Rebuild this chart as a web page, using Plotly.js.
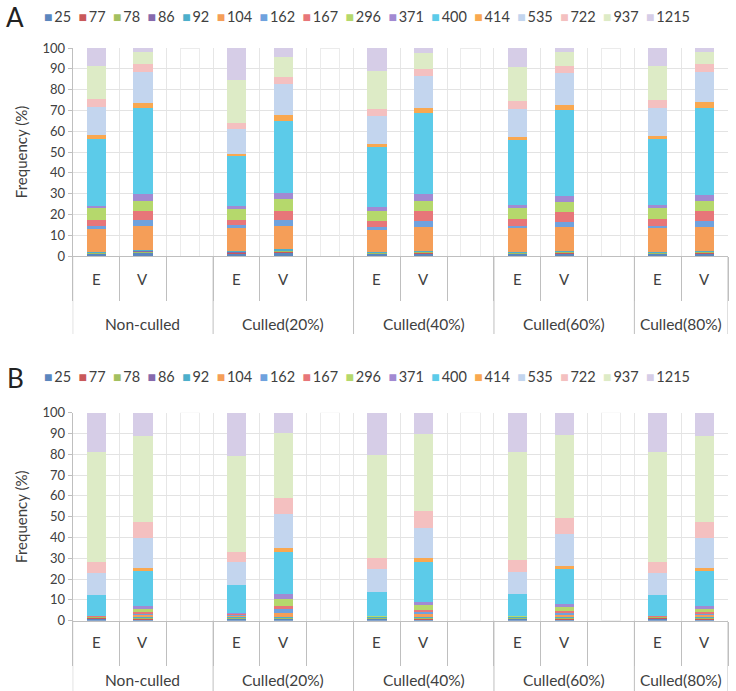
<!DOCTYPE html>
<html><head><meta charset="utf-8">
<script src="https://cdn.plot.ly/plotly-3.0.1.min.js"></script>
<style>html,body{margin:0;padding:0;background:#fff}#chart{width:736px;height:691px}</style>
</head><body><div id="chart"></div>
<script>
// ---------- DATA ----------
const groups = ['Non-culled', 'Culled(20%)', 'Culled(40%)', 'Culled(60%)', 'Culled(80%)'];
const subLabels = ['E', 'V'];
const seriesNames = ['25','77','78','86','92','104','162','167','296','371','400','414','535','722','937','1215'];
const seriesColors = ['#5B86BE','#C9585A','#A3C060','#8669AC','#4DAFCB','#F59E58','#6FA2DE','#E77679',
                      '#B5D86C','#A28AD2','#5CCBE9','#F9A850','#C3D5EE','#F4C0C0','#DDEBC6','#D6CDE7'];
// order of values: NC-E, NC-V, 20-E, 20-V, 40-E, 40-V, 60-E, 60-V, 80-E, 80-V
// Panel A
const A_25   = [1.0, 1.4, 1.2, 1.5, 1.0, 1.2, 1.0, 1.2, 1.0, 1.2];
const A_77   = [0.1, 0.2, 0.1, 0.3, 0.1, 0.2, 0.1, 0.2, 0.1, 0.2];
const A_78   = [0.2, 0.4, 0.3, 0.4, 0.2, 0.3, 0.2, 0.3, 0.2, 0.3];
const A_86   = [0.1, 0.2, 0.1, 0.2, 0.1, 0.1, 0.1, 0.1, 0.1, 0.1];
const A_92   = [0.4, 0.9, 0.5, 1.0, 0.4, 0.8, 0.4, 0.8, 0.4, 0.8];
const A_104  = [11.3, 11.5, 11.1, 11.2, 10.7, 11.5, 11.5, 11.2, 11.5, 11.5];
const A_162  = [1.3, 2.7, 1.4, 2.7, 1.4, 2.6, 1.1, 2.7, 1.0, 2.6];
const A_167  = [2.9, 4.5, 2.4, 4.3, 2.9, 4.9, 3.4, 4.8, 3.3, 4.9];
const A_296  = [5.6, 4.8, 5.3, 5.6, 5.0, 5.0, 5.1, 4.8, 5.3, 4.8];
const A_371  = [1.3, 3.0, 1.5, 3.1, 1.6, 3.0, 1.6, 2.9, 1.5, 2.8];
const A_400  = [32.0, 41.7, 24.2, 34.6, 28.8, 39.3, 31.3, 41.2, 31.9, 41.8];
const A_414  = [2.1, 2.4, 0.8, 2.9, 1.5, 2.4, 1.6, 2.6, 1.4, 2.9];
const A_535  = [13.5, 14.9, 12.0, 14.9, 13.6, 15.2, 13.3, 15.3, 13.6, 14.7];
const A_722  = [3.5, 3.7, 3.2, 3.5, 3.2, 3.2, 3.8, 3.4, 3.7, 3.7];
const A_937  = [16.0, 5.6, 20.5, 9.3, 18.4, 7.7, 16.5, 6.4, 16.3, 5.6];
const A_1215 = [8.7, 2.1, 15.4, 4.5, 11.1, 2.6, 9.0, 2.1, 8.7, 2.1];
// Panel B
const B_25   = [0.9, 0.5, 0.6, 0.6, 0.8, 0.5, 0.8, 0.5, 0.9, 0.5];
const B_77   = [0.2, 0.3, 0.4, 0.3, 0.2, 0.3, 0.2, 0.3, 0.2, 0.3];
const B_78   = [0.5, 0.3, 0.3, 0.3, 0.4, 0.3, 0.4, 0.3, 0.5, 0.3];
const B_86   = [0.1, 0.2, 0.2, 0.3, 0.1, 0.2, 0.1, 0.2, 0.1, 0.2];
const B_92   = [0.1, 0.3, 0.2, 0.3, 0.1, 0.3, 0.1, 0.3, 0.1, 0.3];
const B_104  = [0.1, 1.0, 0.7, 2.1, 0.2, 1.4, 0.1, 1.2, 0.1, 1.0];
const B_162  = [0.1, 0.8, 0.3, 1.7, 0.1, 1.1, 0.1, 1.0, 0.1, 0.8];
const B_167  = [0.1, 0.8, 0.3, 1.6, 0.1, 1.2, 0.1, 1.0, 0.1, 0.8];
const B_296  = [0.2, 1.6, 0.4, 3.2, 0.2, 2.3, 0.2, 1.9, 0.2, 1.6];
const B_371  = [0.1, 1.1, 0.2, 2.2, 0.1, 1.5, 0.1, 1.2, 0.1, 1.1];
const B_400  = [9.9, 17.1, 13.5, 20.6, 11.5, 19.1, 10.5, 16.9, 9.9, 17.1];
const B_414  = [0.2, 1.2, 0.3, 1.7, 0.2, 1.8, 0.2, 1.5, 0.2, 1.2];
const B_535  = [10.6, 14.4, 10.8, 16.4, 11.0, 14.7, 10.5, 15.2, 10.6, 14.4];
const B_722  = [5.1, 7.7, 5.0, 7.8, 5.3, 8.2, 5.6, 8.0, 5.1, 7.7];
const B_937  = [53.0, 41.5, 46.0, 31.0, 49.3, 36.8, 52.1, 39.9, 53.0, 41.5];
const B_1215 = [18.8, 11.2, 20.8, 9.9, 20.4, 10.3, 18.9, 10.6, 18.8, 11.2];
// empty spacer columns between groups (drawn as faint outlines)
const spacerValues = [100, 100, 100, 100];

const seriesA = [A_25,A_77,A_78,A_86,A_92,A_104,A_162,A_167,A_296,A_371,A_400,A_414,A_535,A_722,A_937,A_1215];
const seriesB = [B_25,B_77,B_78,B_86,B_92,B_104,B_162,B_167,B_296,B_371,B_400,B_414,B_535,B_722,B_937,B_1215];

// ---------- LAYOUT HELPERS ----------
const W = 736, H = 691;
const FONT = 'Lato, "Open Sans", sans-serif';
const TXT = '#404040';
const slotIds = [], barIds = [], gapIds = [], subOfSlot = [], groupSpans = [];
groups.forEach((g, gi) => {
  const start = slotIds.length;
  subLabels.forEach(s => { const id = g + ' ' + s; slotIds.push(id); barIds.push(id); subOfSlot.push(s); });
  if (gi < groups.length - 1) { const id = g + ' _'; slotIds.push(id); gapIds.push(id); subOfSlot.push(''); }
  groupSpans.push({name: g, start: start, end: slotIds.length - 1});
});

const plotLeft = 72.7, plotRight = 728;
const panels = [
  {label: 'A', data: seriesA, top: 48, bottom: 256, xa: 'x', ya: 'y', legendY: 17, labelY: 17, subY: 279, groupY: 324},
  {label: 'B', data: seriesB, top: 412.7, bottom: 620.7, xa: 'x2', ya: 'y2', legendY: 376, labelY: 378, subY: 642, groupY: 680}
];
const py = Y => (H - Y) / H;

const traces = [], annotations = [], shapes = [];
const layout = {
  width: W, height: H, margin: {l: 0, r: 0, t: 0, b: 0},
  paper_bgcolor: '#fff', plot_bgcolor: '#fff',
  barmode: 'stack', bargap: 0.59, showlegend: false,
  font: {family: FONT, color: TXT}
};

panels.forEach((p, pi) => {
  const sfx = pi === 0 ? '' : '2';
  p.data.forEach((vals, i) => {
    traces.push({
      type: 'bar', x: barIds, y: vals, name: seriesNames[i],
      marker: {color: seriesColors[i], line: {width: 0}},
      xaxis: p.xa, yaxis: p.ya,
      hovertemplate: seriesNames[i] + ': %{y}%<extra></extra>'
    });
  });
  traces.push({
    type: 'bar', x: gapIds, y: spacerValues, name: 'spacer', showlegend: false, hoverinfo: 'skip',
    marker: {color: 'rgba(255,255,255,0)', line: {color: '#EBEBEB', width: 1}},
    xaxis: p.xa, yaxis: p.ya
  });
  layout['xaxis' + sfx] = {
    domain: [plotLeft / W, plotRight / W], anchor: p.ya,
    type: 'category', categoryorder: 'array', categoryarray: slotIds,
    range: [-0.5, slotIds.length - 0.5],
    showticklabels: false, ticks: 'outside', tickson: 'boundaries', ticklen: 44,
    tickcolor: '#BFBFBF', tickwidth: 1,
    showgrid: true, gridcolor: '#E6E6E6', gridwidth: 1,
    showline: true, linecolor: '#BFBFBF', linewidth: 1, zeroline: false, fixedrange: true
  };
  layout['yaxis' + sfx] = {
    domain: [py(p.bottom), py(p.top)], anchor: p.xa,
    range: [0, 100], tick0: 0, dtick: 10,
    showgrid: true, gridcolor: '#E3E3E3', gridwidth: 1,
    showline: true, linecolor: '#BFBFBF', linewidth: 1,
    ticks: 'outside', ticklen: 4, tickcolor: '#BFBFBF',
    tickfont: {family: FONT, size: 13, color: TXT},
    title: {text: 'Frequency (%)', font: {family: FONT, size: 15, color: TXT}, standoff: 11},
    zeroline: false, fixedrange: true, automargin: false
  };
  // sub-category labels
  slotIds.forEach((id, si) => {
    if (!subOfSlot[si]) return;
    annotations.push({xref: p.xa, yref: 'paper', x: si, y: py(p.subY), text: subOfSlot[si],
      showarrow: false, xanchor: 'center', yanchor: 'middle', font: {family: FONT, size: 15, color: TXT}});
  });
  // group labels + dividers
  groupSpans.forEach((gs, gi) => {
    annotations.push({xref: p.xa, yref: 'paper', x: (gs.start + gs.end) / 2, y: py(p.groupY), text: gs.name,
      showarrow: false, xanchor: 'center', yanchor: 'middle', font: {family: FONT, size: 15.5, color: TXT}});
    const bounds = gi === 0 ? [gs.start - 0.5, gs.end + 0.5] : [gs.end + 0.5];
    bounds.forEach(b => shapes.push({type: 'line', xref: p.xa, yref: 'paper', x0: b, x1: b,
      y0: py(p.bottom), y1: py(p.bottom + 78), line: {color: '#BFBFBF', width: 1}}));
  });
  // legend row
  const legendText = seriesNames.map((n, i) =>
    '<span style="color:' + seriesColors[i] + ';font-size:14px">\u25A0</span>\u2009' + n).join('\u00A0\u00A0');
  annotations.push({xref: 'paper', yref: 'paper', x: 42 / W, y: py(p.legendY), xanchor: 'left', yanchor: 'middle',
    text: legendText, showarrow: false, font: {family: FONT, size: 14.5, color: TXT}});
  // panel letter
  annotations.push({xref: 'paper', yref: 'paper', x: 15 / W, y: py(p.labelY), xanchor: 'center', yanchor: 'middle',
    text: p.label, showarrow: false, font: {family: FONT, size: 26, color: '#222'}});
});
layout.annotations = annotations;
layout.shapes = shapes;

Plotly.newPlot('chart', traces, layout, {displayModeBar: false, staticPlot: true});
</script>
</body></html>
